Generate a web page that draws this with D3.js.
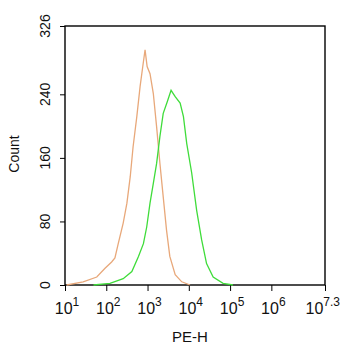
<!DOCTYPE html>
<html>
<head>
<meta charset="UTF-8">
<script src="https://cdnjs.cloudflare.com/ajax/libs/d3/7.8.5/d3.min.js"></script>
<style>
  body { margin: 0; background: #fff; }
  svg { display: block; font-family: "Liberation Sans", Arial, sans-serif; }
</style>
</head>
<body>
<svg id="chart" width="342" height="350"></svg>
<script>
// histogram traces, x as log10(PE-H), y as count
const isoLog = [1.04, 1.44, 1.77, 1.97, 2.13, 2.21, 2.29, 2.41, 2.50, 2.58, 2.65, 2.74, 2.82, 2.90, 2.94, 2.99, 3.06, 3.14, 3.22, 3.30, 3.38, 3.46, 3.54, 3.67, 3.83, 4.03];
const isoCount = [0, 4, 10, 21, 29, 34, 52, 78, 103, 136, 174, 212, 250, 281, 296, 275, 266, 241, 199, 153, 111, 69, 36, 13, 4, 0];

const stainLog = [1.69, 2.09, 2.41, 2.62, 2.78, 2.90, 2.98, 3.06, 3.14, 3.22, 3.30, 3.38, 3.48, 3.57, 3.67, 3.79, 3.87, 3.95, 4.07, 4.19, 4.31, 4.43, 4.59, 4.83, 5.07];
const stainCount = [0, 2, 8, 17, 36, 52, 73, 103, 128, 153, 187, 216, 231, 245, 237, 229, 212, 178, 141, 94, 57, 27, 10, 2, 0];

const xMajor = [1, 2, 3, 4, 5, 6, 7.3];
const xLabels = ["1", "2", "3", "4", "5", "6", "7.3"];
const yMajor = [0, 80, 160, 240, 326];

const svg = d3.select("#chart");
const mLeft = 65, mRight = 325, mTop = 26, mBottom = 285;

const x = d3.scaleLinear().domain([1, 7.3]).range([mLeft, mRight]);
const y = d3.scaleLinear().domain([0, 326]).range([mBottom, mTop]);

// minor ticks
const xMinor = [];
for (let d = 1; d <= 7; d++) {
    for (let k = 1; k <= 9; k++) {
        const v = d + Math.log10(k);
        if (v <= 7.3 && xMajor.indexOf(v) < 0) xMinor.push(v);
    }
}
const yMinor = d3.range(0, 326, 16).filter(v => yMajor.indexOf(v) < 0);

const gx = svg.append("g").attr("transform", `translate(0,${mBottom})`);
gx.call(d3.axisBottom(x).tickValues(xMinor).tickSize(3).tickFormat(""));
gx.call(d3.axisBottom(x).tickValues(xMajor).tickSize(6).tickFormat(""));

const gy = svg.append("g").attr("transform", `translate(${mLeft},0)`);
gy.call(d3.axisLeft(y).tickValues(yMinor).tickSize(3).tickFormat(""));
gy.call(d3.axisLeft(y).tickValues(yMajor).tickSize(5).tickFormat(""));

svg.selectAll(".domain").remove();
svg.selectAll(".tick line").attr("stroke", "#000").attr("stroke-width", 1);

// frame
svg.append("rect")
    .attr("x", mLeft).attr("y", mTop)
    .attr("width", mRight - mLeft).attr("height", mBottom - mTop)
    .attr("fill", "none").attr("stroke", "#000").attr("stroke-width", 1.4);

// x labels 10^n (last one kept inside the edge)
const xl = svg.append("g").selectAll("text")
    .data(xMajor)
    .join("text")
    .attr("x", (d, i) => i === xMajor.length - 1 ? 340 : x(d) + 2)
    .attr("y", 314)
    .attr("text-anchor", (d, i) => i === xMajor.length - 1 ? "end" : "middle")
    .attr("font-size", 16)
    .attr("fill", "#111");
xl.append("tspan").text("10");
xl.append("tspan").attr("dy", -8).attr("font-size", 12).text((d, i) => xLabels[i]);

// y labels rotated
svg.append("g").selectAll("text")
    .data(yMajor)
    .join("text")
    .attr("transform", d => `translate(50,${y(d)}) rotate(-90)`)
    .attr("text-anchor", "middle")
    .attr("font-size", 14)
    .attr("fill", "#111")
    .text(d => d);

svg.append("text")
    .attr("transform", "translate(19,154) rotate(-90)")
    .attr("text-anchor", "middle")
    .attr("font-size", 14)
    .attr("fill", "#111")
    .text("Count");

svg.append("text")
    .attr("x", 190).attr("y", 342)
    .attr("text-anchor", "middle")
    .attr("font-size", 15)
    .attr("fill", "#111")
    .text("PE-H");

const line = d3.line().x(d => x(d[0])).y(d => y(d[1]));

svg.append("path")
    .datum(isoLog.map((v, i) => [v, isoCount[i]]))
    .attr("d", line)
    .attr("fill", "none")
    .attr("stroke", "#e8a87a")
    .attr("stroke-width", 1.3);

svg.append("path")
    .datum(stainLog.map((v, i) => [v, stainCount[i]]))
    .attr("d", line)
    .attr("fill", "none")
    .attr("stroke", "#3fdc3a")
    .attr("stroke-width", 1.3);
</script>
</body>
</html>
